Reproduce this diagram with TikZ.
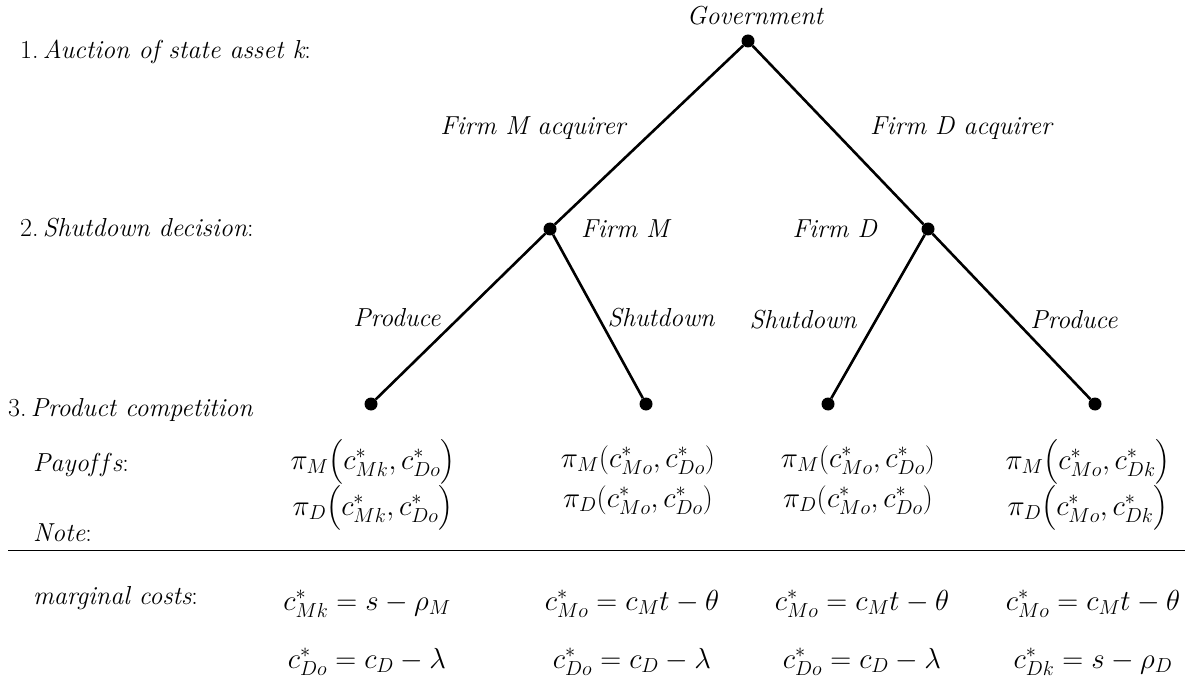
\RequirePackage{fix-cm}
\documentclass[tikz,border=0pt]{standalone}
\usepackage{amsmath}
\usepackage{fontspec}
\usepackage{tikz}
\tikzset{
  dot/.style={circle,fill=black,inner sep=0pt,minimum size=13pt},
  branch/.style={line width=2.6pt},
  lab/.style={font=\fontsize{26}{30}\selectfont\itshape,inner sep=0pt},
  eq/.style={font=\fontsize{29}{34}\selectfont,inner sep=0pt}
}
\begin{document}
\begin{tikzpicture}[x=1pt,y=-1pt]
      \useasboundingbox (0,0) rectangle (1197,687);
      % stages on the left
      \node[lab,anchor=west] (st1) at (20,52) {\upshape 1.\,\itshape Auction of state asset k\upshape:};
      \node[lab,anchor=west] (st2) at (20,228) {\upshape 2.\,\itshape Shutdown decision\upshape:};
      \node[lab,anchor=west] (st3) at (8,410) {\upshape 3.\,\itshape Product competition};
      \node[lab,anchor=west] (pay) at (33,465) {Payof\/f\/s\upshape:};
      \node[lab,anchor=west] (note) at (33,533) {Note\upshape:};
      \node[lab,anchor=west] (mc) at (33,598) {marginal costs\upshape:};

      % tree
      \node[dot] (gov) at (748,41) {};
      \node[dot] (fm) at (550,229) {};
      \node[dot] (fd) at (928,229) {};
      \node[dot] (mp) at (371,404) {};
      \node[dot] (ms) at (646,404) {};
      \node[dot] (ds) at (828,404) {};
      \node[dot] (dp) at (1095,404) {};
      \draw[branch] (gov) -- (fm);
      \draw[branch] (gov) -- (fd);
      \draw[branch] (fm) -- (mp);
      \draw[branch] (fm) -- (ms);
      \draw[branch] (fd) -- (ds);
      \draw[branch] (fd) -- (dp);

      \node[lab] (govlab) at (755,16) {Government};
      \node[lab] (macq) at (533,128) {Firm M acquirer};
      \node[lab] (dacq) at (961,128) {Firm D acquirer};
      \node[lab,anchor=west] (fmlab) at (581,229) {Firm M};
      \node[lab,anchor=east] (fdlab) at (877,229) {Firm D};
      \node[lab] (mprod) at (397,318) {Produce};
      \node[lab] (mshut) at (661,318) {Shutdown};
      \node[lab] (dshut) at (803,320) {Shutdown};
      \node[lab] (dprod) at (1074,320) {Produce};

      % payoffs
      \node[eq] (p1m) at (373,462) {$\pi_M\bigl(c^*_{Mk},c^*_{Do}\bigr)$};
      \node[eq] (p1d) at (373,508) {$\pi_D\bigl(c^*_{Mk},c^*_{Do}\bigr)$};
      \node[eq] (p2m) at (638,460) {$\pi_M(c^*_{Mo},c^*_{Do})$};
      \node[eq] (p2d) at (638,500) {$\pi_D(c^*_{Mo},c^*_{Do})$};
      \node[eq] (p3m) at (858,460) {$\pi_M(c^*_{Mo},c^*_{Do})$};
      \node[eq] (p3d) at (858,500) {$\pi_D(c^*_{Mo},c^*_{Do})$};
      \node[eq] (p4m) at (1088,462) {$\pi_M\bigl(c^*_{Mo},c^*_{Dk}\bigr)$};
      \node[eq] (p4d) at (1088,508) {$\pi_D\bigl(c^*_{Mo},c^*_{Dk}\bigr)$};

      \draw[line width=1pt] (8,550) -- (1185,550);

      % marginal costs
      \node[eq] (c1m) at (367,604) {$c^*_{Mk}=s-\rho_M$};
      \node[eq] (c1d) at (367,662) {$c^*_{Do}=c_D-\lambda$};
      \node[eq] (c2m) at (632,604) {$c^*_{Mo}=c_Mt-\theta$};
      \node[eq] (c2d) at (632,662) {$c^*_{Do}=c_D-\lambda$};
      \node[eq] (c3m) at (862,604) {$c^*_{Mo}=c_Mt-\theta$};
      \node[eq] (c3d) at (862,662) {$c^*_{Do}=c_D-\lambda$};
      \node[eq] (c4m) at (1093,604) {$c^*_{Mo}=c_Mt-\theta$};
      \node[eq] (c4d) at (1093,662) {$c^*_{Dk}=s-\rho_D$};
\end{tikzpicture}
\end{document}
